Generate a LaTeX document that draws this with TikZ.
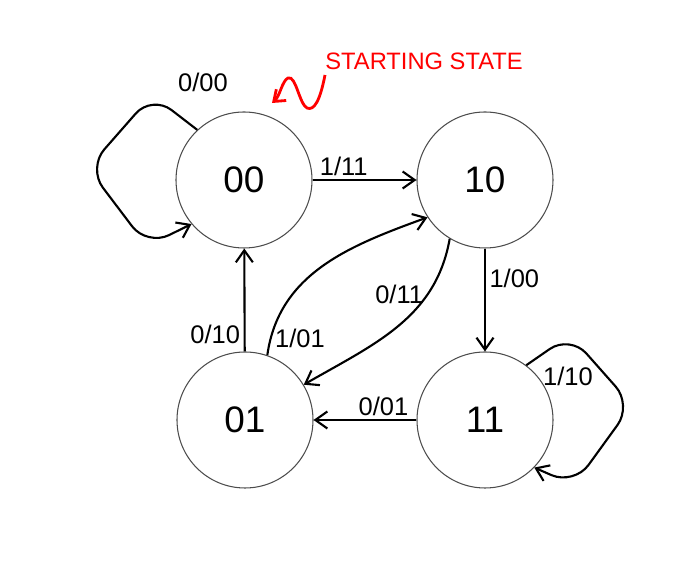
\documentclass[tikz,border=0pt]{standalone}
\usepackage{fontspec}
\setmainfont{Liberation Sans}
\usetikzlibrary{arrows.meta}
\tikzset{
  state/.style={circle, draw=black!70, line width=0.6pt, minimum size=2.72cm,
    font=\fontsize{21}{25}\selectfont},
  trans/.style={line width=1.2pt, -{Straight Barb[length=2.4mm, width=3.4mm]}},
  lbl/.style={font=\fontsize{14.5}{17}\selectfont, inner sep=2pt}
}
\begin{document}
\begin{tikzpicture}
  \useasboundingbox (0,0) rectangle (13.64,11.52);
  \node[state] (s00) at (4.88,7.92) {00};
  \node[state] (s10) at (9.70,7.92) {10};
  \node[state] (s01) at (4.90,3.12) {01};
  \node[state] (s11) at (9.70,3.12) {11};

  \draw[trans] (s00) -- node[lbl, above, pos=0.3] {1/11} (s10);
  \draw[trans] (s01) -- node[lbl, left, pos=0.17] {0/10} (s00);
  \draw[trans] (s10) -- node[lbl, right, pos=0.29] {1/00} (s11);
  \draw[trans] (s11) -- node[lbl, above, pos=0.32] {0/01} (s01);
  \draw[trans] (s01.71) to[out=82, in=200]
    node[lbl, right, pos=0.07] {1/01} (s10.213);
  \draw[trans] (s10.239) to[out=-100, in=30]
    node[lbl, left, pos=0.28] {0/11} (s01.31);

  \draw[trans, rounded corners=14pt] (s00.133) -- (3.04,9.62) -- (1.76,8.16)
    -- (2.94,6.6) -- (s00.220);
  \node[lbl] at (4.06,9.88) {0/00};
  \draw[trans, rounded corners=14pt] (s11.53) -- (11.40,4.82) -- (12.64,3.42)
    -- (11.48,1.82) -- (s11.-44);
  \node[lbl] at (11.36,4.0) {1/10};

  \node[lbl, text=red, font=\fontsize{13.5}{16}\selectfont] (start) at (8.48,10.3) {STARTING STATE};
  \draw[red, line width=1.6pt, -{Straight Barb[length=2mm, width=3mm]}]
    (6.5,10.02) .. controls (6.4,9.5) and (6.28,9.3) .. (6.14,9.36)
    .. controls (5.98,9.45) and (5.92,10.02) .. (5.76,9.96)
    .. controls (5.64,9.9) and (5.6,9.6) .. (5.44,9.46);
\end{tikzpicture}
\end{document}
